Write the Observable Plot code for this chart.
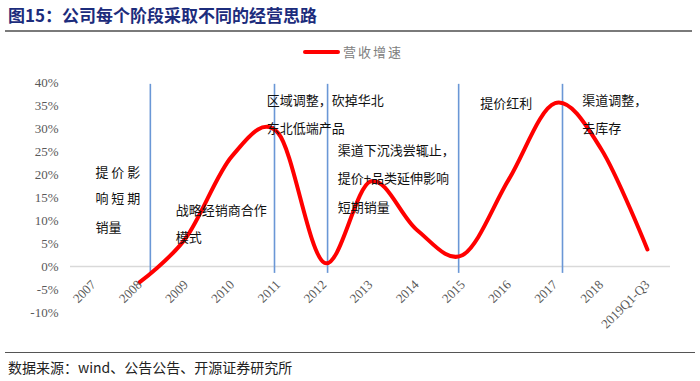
<!DOCTYPE html>
<html>
<head>
<meta charset="utf-8">
<script src="https://cdn.jsdelivr.net/npm/d3@7"></script>
<script src="https://cdn.jsdelivr.net/npm/@observablehq/plot@0.6"></script>
<style>
  body { margin: 0; background: #fff; width: 700px; font-family: "Noto Sans CJK SC", sans-serif; }
  #title { height: 30px; line-height: 30px; margin: 0 8px 0 5px; padding-left: 3px; font-size: 17px; font-weight: bold; color: #1c2c7c; border-bottom: 2px solid #7a7a7a; box-sizing: content-box; }
  #legend { height: 33px; position: relative; }
  #legend .sw { position: absolute; left: 303px; top: 18px; width: 37px; height: 4px; background: #ff0000; border-radius: 2px; }
  #legend .lb { position: absolute; left: 343px; top: 10px; font-size: 13px; letter-spacing: 2px; color: #808080; line-height: 20px; }
  #chart svg { display: block; }
  #source { margin: 0 5px; border-top: 1.5px solid #555; padding: 4px 0 0 3px; font-size: 14px; color: #222; line-height: 20px; }
</style>
</head>
<body>
<div id="title">图15：公司每个阶段采取不同的经营思路</div>
<div id="legend"><div class="sw"></div><div class="lb">营收增速</div></div>
<div id="chart"></div>
<div id="source">数据来源：wind、公告公告、开源证券研究所</div>
<script>
const years = [2007, 2008, 2009, 2010, 2011, 2012, 2013, 2014, 2015, 2016, 2017, 2018, 2019];
const yearLabels = ["2007", "2008", "2009", "2010", "2011", "2012", "2013", "2014", "2015", "2016", "2017", "2018", "2019Q1-Q3"];
const seriesYears = [2008, 2009, 2010, 2011, 2012, 2013, 2014, 2015, 2016, 2017, 2018, 2019];
const growth = [-3.4, 6.2, 24.0, 29.0, 0.8, 18.5, 8.0, 2.5, 19.0, 35.5, 25.5, 3.7];
const yTicks = [-10, -5, 0, 5, 10, 15, 20, 25, 30, 35, 40];
const phaseBreaks = [2008.23, 2010.92, 2012.07, 2014.91, 2017.16];
const notes = [
  {t: "提 价 影", x: 2007.04, y: 20.4},
  {t: "响 短 期", x: 2007.04, y: 14.8},
  {t: "销量", x: 2007.04, y: 8.5},
  {t: "战略经销商合作", x: 2008.78, y: 12.2},
  {t: "模式", x: 2008.78, y: 6.3},
  {t: "区域调整，砍掉华北", x: 2010.75, y: 36.1},
  {t: "东北低端产品", x: 2010.75, y: 30.0},
  {t: "渠道下沉浅尝辄止，", x: 2012.29, y: 25.2},
  {t: "提价+品类延伸影响", x: 2012.29, y: 19.1},
  {t: "短期销量", x: 2012.29, y: 12.8},
  {t: "提价红利", x: 2015.38, y: 35.4},
  {t: "渠道调整，", x: 2017.59, y: 36.1},
  {t: "去库存", x: 2017.59, y: 30.0}
];

const series = seriesYears.map((yr, i) => ({year: yr, v: growth[i]}));
const labelOf = new Map(years.map((y, i) => [y, yearLabels[i]]));

const chart = Plot.plot({
  width: 700,
  height: 287,
  marginLeft: 70,
  marginRight: 30,
  marginTop: 17,
  marginBottom: 40,
  style: {background: "#fff", overflow: "visible"},
  x: {domain: [2006.5, 2019.5], axis: null},
  y: {domain: [-10, 40], axis: null},
  marks: [
    Plot.ruleY([0], {stroke: "#d9d9d9", strokeWidth: 1.5}),
    Plot.ruleX(phaseBreaks, {y1: -1.5, y2: 39.6, stroke: "#6a97d6", strokeWidth: 1.6}),
    Plot.line(series, {x: "year", y: "v", stroke: "#ff0000", strokeWidth: 4, curve: "cardinal", strokeLinecap: "round"}),
    Plot.axisY(yTicks, {anchor: "left", tickSize: 0, tickPadding: 12, tickFormat: d => d + "%", fontFamily: "Liberation Serif", fontSize: 13, fill: "#595959", label: null}),
    Plot.axisX(years, {anchor: "bottom", tickSize: 0, tickPadding: 0, tickRotate: -45, dy: -30, tickFormat: d => labelOf.get(d), fontFamily: "Liberation Serif", fontSize: 13, fill: "#595959", label: null}),
    Plot.text(notes, {x: "x", y: "y", text: "t", textAnchor: "start", lineAnchor: "middle", fontSize: 13, fill: "#111", fontFamily: "Noto Sans CJK SC"})
  ]
});
document.getElementById("chart").appendChild(chart);
</script>
</body>
</html>
